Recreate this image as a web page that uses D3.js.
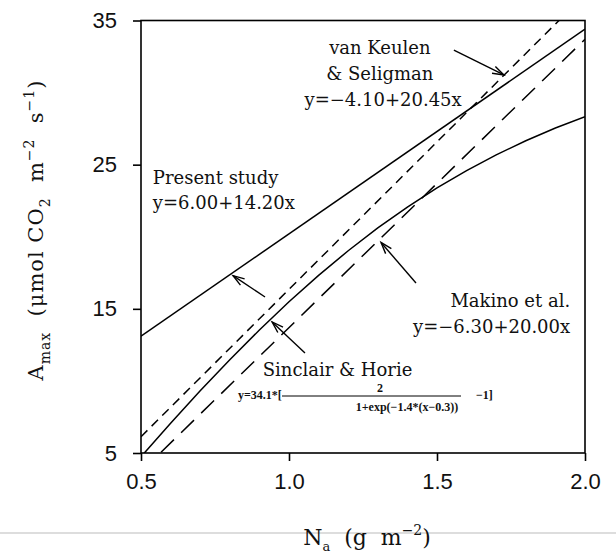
<!DOCTYPE html>
<html><head><meta charset="utf-8">
<script src="https://cdn.jsdelivr.net/npm/d3@7"></script>
<style>body{margin:0;background:#fff}svg{display:block}</style>
</head><body>
<script>
// ---- data ----
const xTicks = [0.5, 1.0, 1.5, 2.0];
const yTicks = [5, 15, 25, 35];
// straight-line fits (endpoints)
const presentStudy = [[0.5, 13.10], [2.0, 34.40]];
const vanKeulen    = [[0.5, 6.13], [2.0, 36.80]];
const makino       = [[0.5, 3.70], [2.0, 33.70]];
// Sinclair & Horie curve
const sinclairX = [0.5,0.6,0.7,0.8,0.9,1.0,1.1,1.2,1.3,1.4,1.5,1.6,1.7,1.8,1.9,2.0];
const sinclairY = [4.74,7.06,9.31,11.47,13.53,15.49,17.32,19.03,20.61,22.06,23.39,24.59,25.68,26.66,27.54,28.32];

const W = 616, H = 556;
const svg = d3.select("body").append("svg").attr("width", W).attr("height", H);
const x = d3.scaleLinear().domain([0.5, 2.0]).range([141, 585]);
const y = d3.scaleLinear().domain([5, 35]).range([453, 20.5]);

const serif = "'DejaVu Serif', serif";
const sans = "'Liberation Sans', Arial, sans-serif";

// scan artifact line
svg.append("line").attr("x1", 0).attr("x2", W).attr("y1", 533).attr("y2", 533)
  .attr("stroke", "#bbb").attr("stroke-width", 1);

svg.append("defs").append("clipPath").attr("id", "clip")
  .append("rect").attr("x", x(0.5)).attr("y", y(35)).attr("width", x(2) - x(0.5)).attr("height", y(5) - y(35));

// axes
const ax = svg.append("g").attr("transform", `translate(0,${y(5)})`)
  .call(d3.axisBottom(x).tickValues(xTicks).tickFormat(d3.format(".1f")).tickSize(8).tickPadding(12));
const ay = svg.append("g").attr("transform", `translate(${x(0.5)},0)`)
  .call(d3.axisLeft(y).tickValues(yTicks).tickSize(8).tickPadding(16));
[ax, ay].forEach(g => {
  g.selectAll("path,line").attr("stroke", "#000").attr("stroke-width", 1.6);
  g.selectAll("text").attr("font-family", sans).attr("font-size", 22).attr("fill", "#111");
});
ax.select(".domain").remove(); ay.select(".domain").remove();
svg.append("rect").attr("x", x(0.5)).attr("y", y(35)).attr("width", x(2) - x(0.5)).attr("height", y(5) - y(35))
  .attr("fill", "none").attr("stroke", "#000").attr("stroke-width", 1.6);

// lines
const line = d3.line().x(d => x(d[0])).y(d => y(d[1]));
const plot = svg.append("g").attr("clip-path", "url(#clip)");
plot.append("path").datum(presentStudy).attr("d", line).attr("fill", "none").attr("stroke", "#000").attr("stroke-width", 1.5);
plot.append("path").datum(vanKeulen).attr("d", line).attr("fill", "none").attr("stroke", "#000").attr("stroke-width", 1.5).attr("stroke-dasharray", "9,6");
plot.append("path").datum(makino).attr("d", line).attr("fill", "none").attr("stroke", "#000").attr("stroke-width", 1.5).attr("stroke-dasharray", "18,10");
plot.append("path").datum(sinclairX.map((v, i) => [v, sinclairY[i]])).attr("d", line).attr("fill", "none").attr("stroke", "#000").attr("stroke-width", 1.5);

// annotations
function txt(xv, yv, s, size, anchor) {
  return svg.append("text").attr("x", x(xv)).attr("y", y(yv)).attr("font-family", serif)
    .attr("font-size", size || 18).attr("text-anchor", anchor || "middle").attr("fill", "#111").text(s);
}
function arrow(x1, y1, x2, y2) {
  const X1 = x(x1), Y1 = y(y1), X2 = x(x2), Y2 = y(y2);
  const a = Math.atan2(Y2 - Y1, X2 - X1), L = 12, s = 0.32;
  const g = svg.append("g").attr("stroke", "#000").attr("stroke-width", 1.4).attr("fill", "none");
  g.append("line").attr("x1", X1).attr("y1", Y1).attr("x2", X2).attr("y2", Y2);
  g.append("path").attr("d",
    `M${X2 - L * Math.cos(a - s)},${Y2 - L * Math.sin(a - s)}L${X2},${Y2}L${X2 - L * Math.cos(a + s)},${Y2 - L * Math.sin(a + s)}`);
}

txt(1.307, 32.68, "van Keulen");
txt(1.307, 30.87, "& Seligman");
txt(1.318, 29.07, "y=\u22124.10+20.45x");
arrow(1.557, 32.95, 1.726, 31.22);

txt(0.54, 23.66, "Present study", 18, "start");
txt(0.54, 21.92, "y=6.00+14.20x", 18, "start");
arrow(0.919, 15.82, 0.811, 17.3);

txt(1.95, 15.13, "Makino et al.", 18, "end");
txt(1.95, 13.32, "y=\u22126.30+20.00x", 18, "end");
arrow(1.429, 16.79, 1.311, 19.6);

txt(1.164, 10.34, "Sinclair & Horie", 18, "middle");
arrow(1.054, 11.94, 0.943, 14.09);
// formula
const fx = 238, fy = 399;
const f = svg.append("g").attr("font-family", "'Liberation Serif', serif").attr("font-weight", "bold").attr("fill", "#111");
f.append("text").attr("x", fx).attr("y", fy).attr("font-size", 12).text("y=34.1*[");
f.append("text").attr("x", 380).attr("y", fy - 7).attr("font-size", 12).attr("text-anchor", "middle").text("2");
f.append("line").attr("x1", 282).attr("x2", 461).attr("y1", fy - 3).attr("y2", fy - 3).attr("stroke", "#000").attr("stroke-width", 1);
f.append("text").attr("x", 407).attr("y", fy + 12).attr("font-size", 12).attr("text-anchor", "middle").text("1+exp(\u22121.4*(x\u22120.3))");
f.append("text").attr("x", 476).attr("y", fy).attr("font-size", 12).text("\u22121]");

// axis titles
const yl = svg.append("text").attr("transform", `translate(43,${230}) rotate(-90)`)
  .attr("font-family", serif).attr("font-size", 21).attr("letter-spacing", 1).attr("text-anchor", "middle").attr("fill", "#111")
  .style("white-space", "pre");
yl.append("tspan").text("A");
yl.append("tspan").attr("dy", 7).attr("font-size", 14).text("max");
yl.append("tspan").attr("dy", -7).text("  (\u03bcmol CO");
yl.append("tspan").attr("dy", 7).attr("font-size", 14).text("2");
yl.append("tspan").attr("dy", -7).text("  m");
yl.append("tspan").attr("dy", -9).attr("font-size", 14).text("\u22122");
yl.append("tspan").attr("dy", 9).text("  s");
yl.append("tspan").attr("dy", -9).attr("font-size", 14).text("\u22121");
yl.append("tspan").attr("dy", 9).text(")");

const xl = svg.append("text").attr("x", 367).attr("y", 545)
  .attr("font-family", serif).attr("font-size", 22).attr("text-anchor", "middle").attr("fill", "#111")
  .style("white-space", "pre");
xl.append("tspan").text("N");
xl.append("tspan").attr("dy", 6).attr("font-size", 13).text("a");
xl.append("tspan").attr("dy", -6).text("  (g  m");
xl.append("tspan").attr("dy", -10).attr("font-size", 14).text("\u22122");
xl.append("tspan").attr("dy", 10).text(")");
</script>
</body></html>
